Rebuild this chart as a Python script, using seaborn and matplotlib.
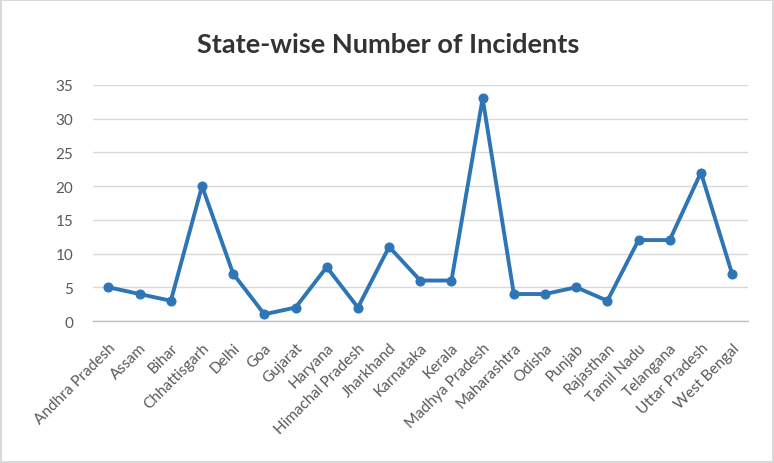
import pandas as pd
import seaborn as sns
import matplotlib.pyplot as plt

# data
states = ['Andhra Pradesh', 'Assam', 'Bihar', 'Chhattisgarh', 'Delhi', 'Goa', 'Gujarat',
          'Haryana', 'Himachal Pradesh', 'Jharkhand', 'Karnataka', 'Kerala', 'Madhya Pradesh',
          'Maharashtra', 'Odisha', 'Punjab', 'Rajasthan', 'Tamil Nadu', 'Telangana',
          'Uttar Pradesh', 'West Bengal']
incidents = [5, 4, 3, 20, 7, 1, 2, 8, 2, 11, 6, 6, 33, 4, 4, 5, 3, 12, 12, 22, 7]
y_ticks = [0, 5, 10, 15, 20, 25, 30, 35]

df = pd.DataFrame({'State': states, 'Incidents': incidents})

sns.set_style('white')
plt.rcParams['font.family'] = ['Lato', 'DejaVu Sans']

fig = plt.figure(figsize=(7.74, 4.64), dpi=100)
fig.patch.set_edgecolor('#D9D9D9')
fig.patch.set_linewidth(1.5)
ax = fig.add_axes([0.120, 0.306, 0.846, 0.509])

sns.lineplot(data=df, x='State', y='Incidents', ax=ax, sort=False,
             color='#2E75B6', linewidth=2.8, marker='o', markersize=6.5,
             markeredgecolor='#2E75B6')

ax.set_ylim(0, 35)
ax.set_xlim(-0.5, len(states) - 0.5)
ax.set_yticks(y_ticks)
ax.yaxis.grid(True, color='#D9D9D9', linewidth=1)
ax.set_axisbelow(True)
for side in ['top', 'right', 'left']:
    ax.spines[side].set_visible(False)
ax.spines['bottom'].set_color('#BFBFBF')
ax.spines['bottom'].set_linewidth(1)

ax.set_xlabel('')
ax.set_ylabel('')
ax.tick_params(axis='both', length=0, labelsize=11, labelcolor='#595959')
ax.tick_params(axis='y', pad=14)
ax.tick_params(axis='x', pad=14)
plt.setp(ax.get_xticklabels(), rotation=45, ha='right', rotation_mode='anchor')

fig.text(0.502, 0.902, 'State-wise Number of Incidents', ha='center', va='center',
         fontsize=19.5, fontweight='bold', color='#333333')

fig.savefig('out.png', dpi=100)
